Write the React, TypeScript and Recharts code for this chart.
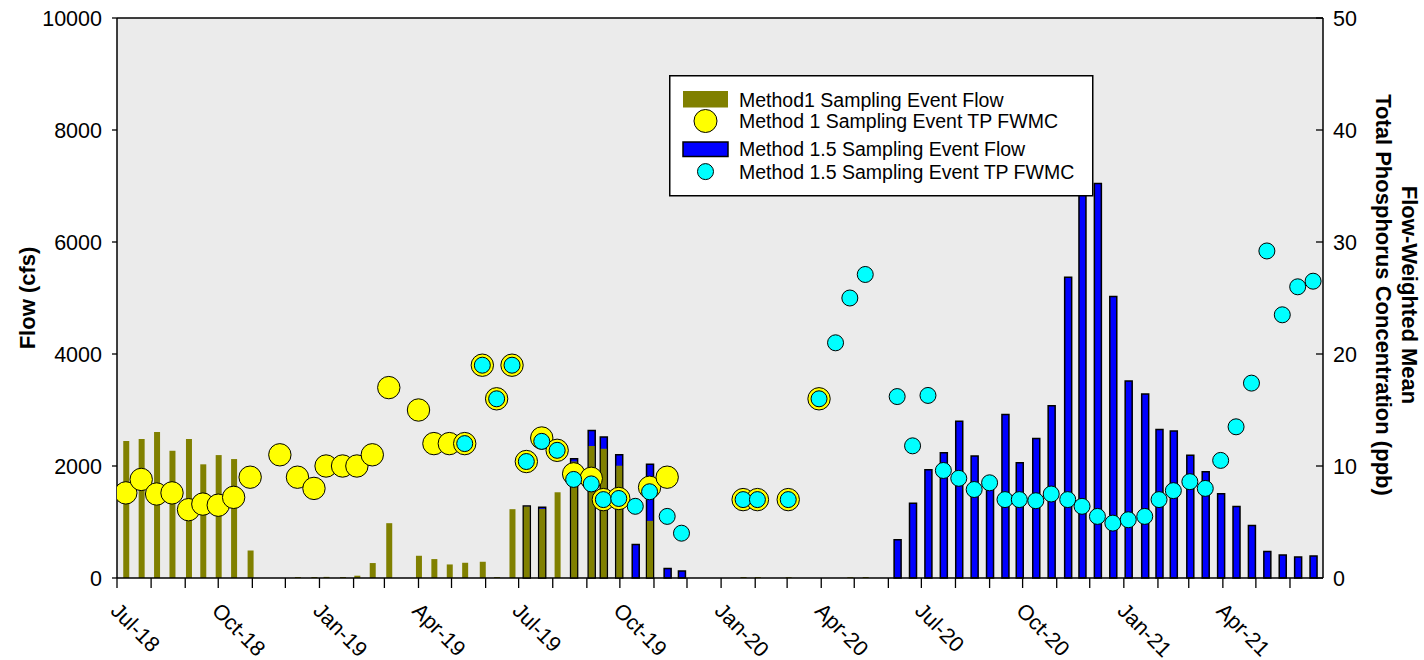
import React from 'react';
import { ComposedChart, Bar, Scatter, XAxis, YAxis, CartesianGrid, Legend, ReferenceLine } from 'recharts';

// Sampling event dates
const eventDates = [
  '2018-07-09', '2018-07-23', '2018-08-06', '2018-08-20', '2018-09-04', '2018-09-17', '2018-10-01', '2018-10-15',
  '2018-10-30', '2018-11-26', '2018-12-12', '2018-12-27', '2019-01-07', '2019-01-22', '2019-02-04', '2019-02-18',
  '2019-03-05', '2019-04-01', '2019-04-15', '2019-04-29', '2019-05-13', '2019-05-29', '2019-06-11', '2019-06-25',
  '2019-07-08', '2019-07-22', '2019-08-05', '2019-08-20', '2019-09-05', '2019-09-16', '2019-09-30', '2019-10-15',
  '2019-10-28', '2019-11-13', '2019-11-26', '2020-01-21', '2020-02-03', '2020-03-02', '2020-03-30', '2020-04-14',
  '2020-04-27', '2020-05-11', '2020-06-09', '2020-06-23', '2020-07-07', '2020-07-21', '2020-08-04', '2020-08-18',
  '2020-09-01', '2020-09-15', '2020-09-28', '2020-10-13', '2020-10-27', '2020-11-11', '2020-11-24', '2020-12-08',
  '2020-12-22', '2021-01-05', '2021-01-20', '2021-02-02', '2021-02-15', '2021-03-02', '2021-03-16', '2021-03-30',
  '2021-04-13', '2021-04-27', '2021-05-11', '2021-05-25', '2021-06-08', '2021-06-22',
];

// Method 1 sampling event flow (cfs)
const method1Flow: (number | null)[] = [
  2445, 2480, 2605, 2272, 2480, 2030, 2195, 2124,
  491, null, 18, 18, 20, 18, 41, 267,
  979, 397, 338, 242, 272, 290, 18, 1229,
  1275, 1234, 1531, 2080, 2356, 2308, 2005, null,
  1020, null, null, 18, 18, 15, null, null,
  15, 18, null, null, null, null, null, null,
  null, null, null, null, null, null, null, null,
  null, null, null, null, null, null, null, null,
  null, null, null, null, null, null,
];

// Method 1 sampling event TP FWMC (ppb)
const method1TP: (number | null)[] = [
  7.6, 8.8, 7.5, 7.6, 6.1, 6.6, 6.5, 7.2,
  9.0, 11.0, 9.0, 8.0, 10.0, 10.0, 10.0, 11.0,
  17.0, 15.0, 12.0, 12.0, 12.0, 19.0, 16.0, 19.0,
  10.4, 12.5, 11.4, 9.3, 8.9, 7.0, 7.1, null,
  8.1, 9.0, null, 7.0, 7.0, 7.0, 16.0, null,
  null, null, null, null, null, null, null, null,
  null, null, null, null, null, null, null, null,
  null, null, null, null, null, null, null, null,
  null, null, null, null, null, null,
];

// Method 1.5 sampling event flow (cfs)
const method15Flow: (number | null)[] = [
  null, null, null, null, null, null, null, null,
  null, null, null, null, null, null, null, null,
  null, null, null, null, null, null, null, null,
  1287, 1264, null, 2130, 2635, 2516, 2201, 598,
  2030, 171, 125, null, null, null, null, null,
  null, null, 682, 1335, 1934, 2237, 2801, 2178,
  1650, 2920, 2059, 2493, 3074, 5370, 7300, 7044,
  5027, 3519, 3287, 2653, 2623, 2190, 1898, 1506,
  1275, 937, 474, 410, 374, 392,
];

// Method 1.5 sampling event TP FWMC (ppb)
const method15TP: (number | null)[] = [
  null, null, null, null, null, null, null, null,
  null, null, null, null, null, null, null, null,
  null, null, null, null, 12.0, 19.0, 16.0, 19.0,
  10.4, 12.2, 11.4, 8.8, 8.4, 7.0, 7.1, 6.4,
  7.7, 5.5, 4.0, 7.0, 7.0, 7.0, 16.0, 21.0,
  25.0, 27.1, 16.2, 11.8, 16.3, 9.6, 8.9, 7.9,
  8.5, 7.0, 7.0, 6.9, 7.5, 7.0, 6.4, 5.5,
  4.9, 5.2, 5.5, 7.0, 7.8, 8.6, 8.0, 10.5,
  13.5, 17.4, 29.2, 23.5, 26.0, 26.5,
];

const monthNames = ['Jan', 'Feb', 'Mar', 'Apr', 'May', 'Jun', 'Jul', 'Aug', 'Sep', 'Oct', 'Nov', 'Dec'];
const flowTicks = [0, 2000, 4000, 6000, 8000, 10000];
const tpTicks = [0, 10, 20, 30, 40, 50];

const toTime = (s: string) => {
  const [y, m, d] = s.split('-').map(Number);
  return Date.UTC(y, m - 1, d);
};

const domainStart = Date.UTC(2018, 6, 1);
const domainEnd = Date.UTC(2021, 6, 1);
const monthTicks: number[] = [];
for (let i = 0; i < 36; i++) monthTicks.push(Date.UTC(2018, 6 + i, 1));

const tableData = eventDates.map((d, i) => ({
  t: toTime(d),
  m1Flow: method1Flow[i],
  m15Flow: method15Flow[i],
}));
const m1Points = eventDates
  .map((d, i) => ({ t: toTime(d), tp: method1TP[i] }))
  .filter((p) => p.tp != null);
const m15Points = eventDates
  .map((d, i) => ({ t: toTime(d), tp: method15TP[i] }))
  .filter((p) => p.tp != null);

const FONT = '"Liberation Sans", Arial, Helvetica, sans-serif';
const TICK_FS = 21.5;

const XTick = (props: any) => {
  const { x, y, payload } = props;
  const d = new Date(payload.value);
  const m = d.getUTCMonth();
  if (m % 3 !== 0) return null;
  const label = `${monthNames[m]}-${String(d.getUTCFullYear()).slice(2)}`;
  const tx = x - 7.5;
  const ty = y + 24;
  return (
    <text x={tx} y={ty} transform={`rotate(45 ${tx} ${ty})`} textAnchor="start" fontSize={TICK_FS} fontFamily={FONT} fill="#000">
      {label}
    </text>
  );
};

const RightTick = (props: any) => {
  const { x, y, payload } = props;
  const axisX = x - 10;
  return (
    <g>
      <line x1={axisX} x2={axisX - 7} y1={y} y2={y} stroke="#000" strokeWidth={1.3} />
      <text x={x} y={y} dy="0.355em" textAnchor="start" fontSize={TICK_FS} fontFamily={FONT} fill="#000">
        {payload.value}
      </text>
    </g>
  );
};

const LeftTitle = (props: any) => {
  const vb = props.viewBox || { x: 0, y: 18, width: 117, height: 560 };
  const cx = vb.x + 27;
  const cy = vb.y + vb.height / 2;
  return (
    <text x={cx} y={cy} transform={`rotate(-90 ${cx} ${cy})`} textAnchor="middle" dominantBaseline="central"
      fontSize={22} fontWeight="bold" fontFamily={FONT} fill="#000">
      Flow (cfs)
    </text>
  );
};

const RightTitle = (props: any) => {
  const vb = props.viewBox || { x: 1323, y: 18, width: 101, height: 560 };
  const cy = vb.y + vb.height / 2 - 3;
  const x1 = vb.x + 86;
  const x2 = vb.x + 60;
  return (
    <g>
      <text x={x1} y={cy} transform={`rotate(90 ${x1} ${cy})`} textAnchor="middle" dominantBaseline="central"
        fontSize={22} fontWeight="bold" fontFamily={FONT} fill="#000">
        Flow-Weighted Mean
      </text>
      <text x={x2} y={cy} transform={`rotate(90 ${x2} ${cy})`} textAnchor="middle" dominantBaseline="central"
        fontSize={22} fontWeight="bold" fontFamily={FONT} fill="#000">
        Total Phosphorus Concentration (ppb)
      </text>
    </g>
  );
};

const YellowDot = (props: any) => {
  const { cx, cy } = props;
  if (cx == null || cy == null) return null;
  return <circle cx={cx} cy={cy} r={11.2} fill="#ffff00" stroke="#000" strokeWidth={1} />;
};

const CyanDot = (props: any) => {
  const { cx, cy } = props;
  if (cx == null || cy == null) return null;
  return <circle cx={cx} cy={cy} r={8} fill="#00ffff" stroke="#000" strokeWidth={1} />;
};

const LegendBox = () => {
  const textProps = { x: 70, dy: '0.355em', fontSize: 19.5, fontFamily: FONT, fill: '#000' } as const;
  return (
    <svg width={425} height={122} style={{ display: 'block' }}>
      <rect x={0.75} y={0.75} width={423} height={120} fill="#fff" stroke="#000" strokeWidth={1.5} />
      <rect x={14} y={16} width={45} height={16.5} fill="#808000" />
      <text {...textProps} y={25}>Method1 Sampling Event Flow</text>
      <circle cx={36.5} cy={46} r={11.5} fill="#ffff00" stroke="#000" strokeWidth={1} />
      <text {...textProps} y={46}>Method 1 Sampling Event TP FWMC</text>
      <rect x={14} y={67} width={45} height={14.5} fill="#0000ff" stroke="#000" strokeWidth={1.5} />
      <text {...textProps} y={74.5}>Method 1.5 Sampling Event Flow</text>
      <circle cx={36.5} cy={96.6} r={8} fill="#00ffff" stroke="#000" strokeWidth={1} />
      <text {...textProps} y={96.6}>Method 1.5 Sampling Event TP FWMC</text>
    </svg>
  );
};

export default function App() {
  return (
    <div style={{ position: 'absolute', left: 0, top: 0, fontFamily: FONT }}>
      <ComposedChart
        width={1424}
        height={660}
        data={tableData}
        margin={{ top: 18, right: 0, bottom: 0, left: 0 }}
        barGap={-6.5}
      >
        <CartesianGrid yAxisId="left" fill="#ebebeb" vertical={false} horizontal={false} />
        <XAxis
          dataKey="t"
          type="number"
          domain={[domainStart, domainEnd]}
          ticks={monthTicks}
          interval={0}
          height={82}
          tickSize={10}
          tickMargin={0}
          tick={<XTick />}
          axisLine={{ stroke: '#000', strokeWidth: 1.5 }}
          tickLine={{ stroke: '#000', strokeWidth: 1.3 }}
          allowDataOverflow
        />
        <YAxis
          yAxisId="left"
          orientation="left"
          domain={[0, 10000]}
          ticks={flowTicks}
          interval={0}
          width={117}
          tickSize={5}
          tickMargin={10}
          tick={{ fontSize: TICK_FS, fill: '#000', fontFamily: FONT }}
          axisLine={{ stroke: '#000', strokeWidth: 1.5 }}
          tickLine={{ stroke: '#000', strokeWidth: 1.3 }}
          label={<LeftTitle />}
        />
        <YAxis
          yAxisId="right"
          orientation="right"
          domain={[0, 50]}
          ticks={tpTicks}
          interval={0}
          width={101}
          tickSize={0}
          tickMargin={10}
          tickLine={false}
          tick={<RightTick />}
          axisLine={{ stroke: '#000', strokeWidth: 1.5 }}
          label={<RightTitle />}
        />
        <ReferenceLine yAxisId="left" y={10000} stroke="#000" strokeWidth={1.5} />
        <Bar dataKey="m15Flow" yAxisId="left" fill="#0000ff" stroke="#000" strokeWidth={1.5} barSize={7} isAnimationActive={false} />
        <Bar dataKey="m1Flow" yAxisId="left" fill="#808000" barSize={6} isAnimationActive={false} />
        <Scatter data={m1Points} dataKey="tp" yAxisId="right" shape={YellowDot} isAnimationActive={false} />
        <Scatter data={m15Points} dataKey="tp" yAxisId="right" shape={CyanDot} isAnimationActive={false} />
        <Legend
          layout="vertical"
          align="center"
          verticalAlign="middle"
          content={<LegendBox />}
          wrapperStyle={{ position: 'absolute', left: 669, top: 75, width: 425, height: 122 }}
        />
      </ComposedChart>
    </div>
  );
}
